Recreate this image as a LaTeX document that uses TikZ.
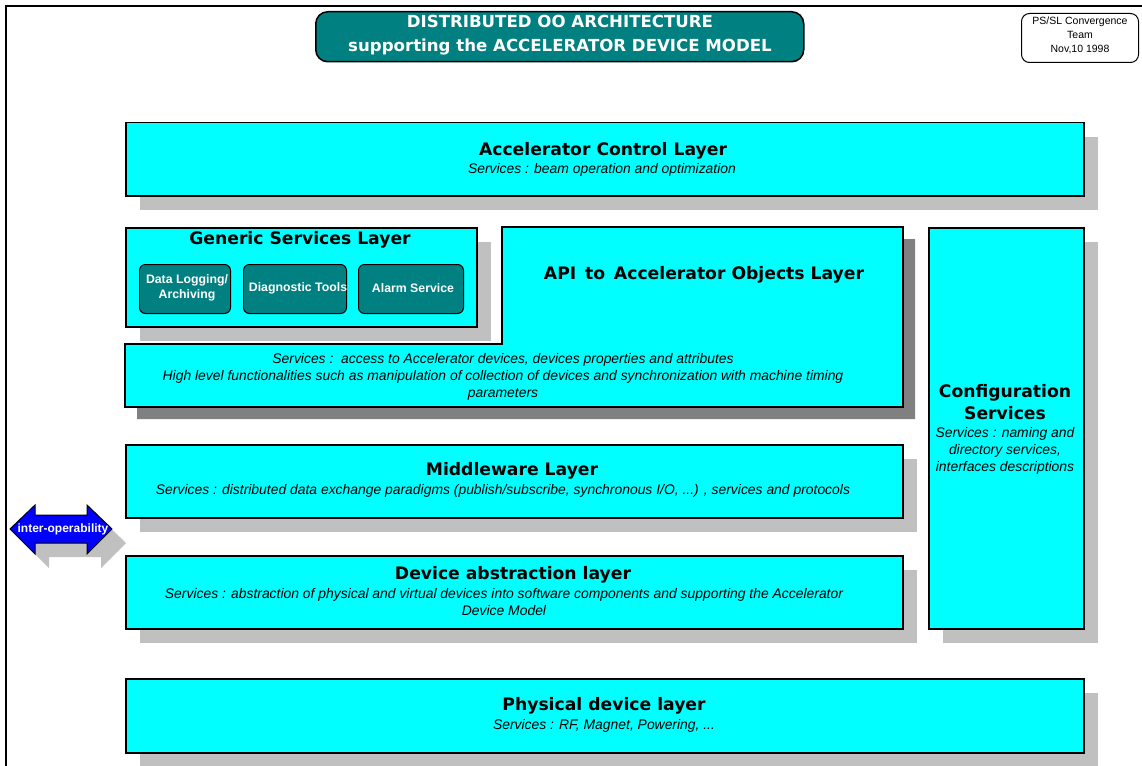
\documentclass[tikz,border=0pt]{standalone}
\usepackage{fontspec}
\setmainfont{Liberation Sans}
\newfontfamily\headfont{DejaVu Sans}
\usetikzlibrary{shadows}

\definecolor{layercyan}{RGB}{0,255,255}
\definecolor{boxteal}{RGB}{0,128,128}
\definecolor{shadelight}{RGB}{192,192,192}
\definecolor{shadedark}{RGB}{128,128,128}
\definecolor{arrowblue}{RGB}{0,0,255}

\begin{document}
\begin{tikzpicture}[x=1pt, y=-1pt, line width=1.5pt,
        lightshadow/.style = {drop shadow={shadow xshift=14pt, shadow yshift=-14pt, fill=shadelight, opacity=1}},
        darkshadow/.style = {drop shadow={shadow xshift=12pt, shadow yshift=-12pt, fill=shadedark, opacity=1}},
        layer/.style = {draw, fill=layercyan, anchor=north west, inner sep=0pt, lightshadow},
        service/.style = {draw, fill=boxteal, rounded corners=6pt, line width=1pt, anchor=north west, inner sep=0pt},
        servicetext/.style = {text=white, align=center, font=\bfseries\fontsize{12.3}{15}\selectfont},
        ttl/.style = {font=\headfont\bfseries\fontsize{17.2}{21.5}\selectfont, align=center},
        svc/.style = {font=\itshape\fontsize{13.9}{16.8}\selectfont, align=center}]

    \useasboundingbox (0,0) rectangle (1142,765);
    \clip (0,0) rectangle (1142,765);

    % page frame
    \draw[line width=2pt] (6,790) -- (6,6) -- (1160,6);

    % heading and date
    \node[draw, fill=boxteal, rounded corners=12pt, anchor=north west, minimum width=488pt, minimum height=50pt] (head) at (315,11) {};
    \node[text=white, align=center, font=\headfont\bfseries\fontsize{16.6}{24}\selectfont] (headtext) at (560,35.5) {DISTRIBUTED OO ARCHITECTURE\\supporting the ACCELERATOR DEVICE MODEL};
    \node[draw, fill=white, rounded corners=8pt, line width=1pt, anchor=north west, minimum width=117pt, minimum height=49pt] (date) at (1021,13) {};
    \node[align=center, font=\fontsize{10.5}{14}\selectfont] (datetext) at (1080,35) {PS/SL Convergence\\Team\\Nov,10 1998};

    % accelerator control layer
    \node[layer, minimum width=958pt, minimum height=73pt] (acl) at (125,122) {};
    \node[ttl] (acl-t) at (603,151) {Accelerator Control Layer};
    \node[svc] (acl-s) at (602,170) {Services : beam operation and optimization};

    % API layer, cut out for the generic services
    \path[draw, fill=layercyan, darkshadow] (502,227) -- (903,227) -- (903,407) -- (125,407) -- (125,344) -- (502,344) -- cycle;
    \node[ttl] (api-t) at (704,275) {API\, to\, Accelerator Objects Layer};
    \node[svc] (api-s) at (503,377) {Services :\ \ access to Accelerator devices, devices properties and attributes\\
        High level functionalities such as manipulation of collection of devices and synchronization with machine timing\\
        parameters};

    % generic services
    \node[layer, minimum width=351pt, minimum height=99pt] (gsl) at (125,227) {};
    \node[ttl] (gsl-t) at (300,240) {Generic Services Layer};
    \node[service, minimum width=91pt, minimum height=49pt] (logging) at (139,264) {};
    \node[service, minimum width=103pt, minimum height=49pt] (diag) at (243,264) {};
    \node[service, minimum width=105pt, minimum height=49pt] (alarm) at (358,264) {};
    \node[servicetext] (logging-t) at (187,288) {Data Logging/\\Archiving};
    \node[servicetext] (diag-t) at (298,288) {Diagnostic Tools};
    \node[servicetext] (alarm-t) at (413,288) {Alarm Service};

    % configuration services
    \node[layer, minimum width=155pt, minimum height=401pt] (cfg) at (928,227) {};
    \node[ttl] (cfg-t) at (1005,402) {Configuration\\Services};
    \node[svc] (cfg-s) at (1005,451) {Services : naming and\\directory services,\\interfaces descriptions};

    % middleware
    \node[layer, minimum width=777pt, minimum height=73pt] (mid) at (125,444) {};
    \node[ttl] (mid-t) at (512,471) {Middleware Layer};
    \node[svc] (mid-s) at (503,491) {Services : distributed data exchange paradigms (publish/subscribe, synchronous I/O, ...) , services and protocols};

    % device abstraction
    \node[layer, minimum width=777pt, minimum height=73pt] (dev) at (125,555) {};
    \node[ttl] (dev-t) at (513,575) {Device abstraction layer};
    \node[svc] (dev-s) at (504,602) {Services : abstraction of physical and virtual devices into software components and supporting the Accelerator\\Device Model};

    % physical devices
    \node[layer, minimum width=958pt, minimum height=74pt] (phy) at (125,678) {};
    \node[ttl] (phy-t) at (604,706) {Physical device layer};
    \node[svc] (phy-s) at (604,726) {Services : RF, Magnet, Powering, ...};

    % inter-operability arrow
    \path[draw, line width=1pt, fill=arrowblue, lightshadow] (10,529) -- (35,505) -- (35,515) -- (87,515) -- (87,505)
        -- (112,529) -- (87,554) -- (87,543) -- (35,543) -- (35,554) -- cycle;
    \node[servicetext, font=\bfseries\fontsize{12}{14}\selectfont, inner sep=0pt] (interop) at (63,529) {inter-operability};

\end{tikzpicture}
\end{document}
